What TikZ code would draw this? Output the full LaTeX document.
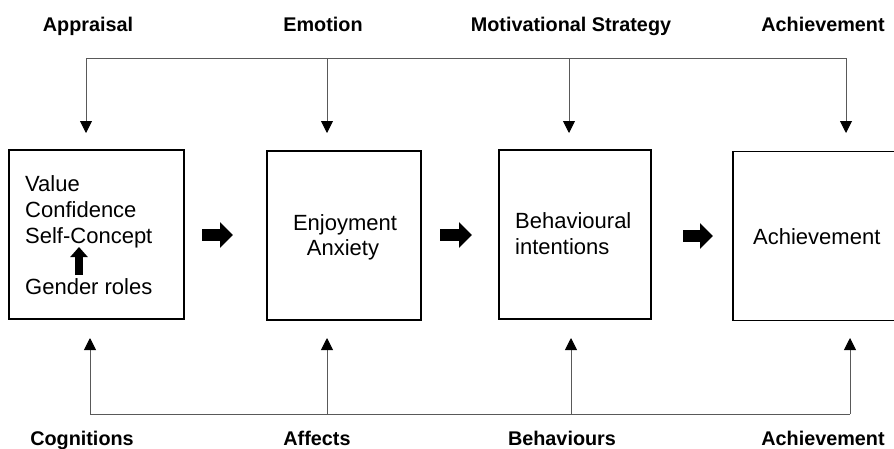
\documentclass[tikz,border=0pt]{standalone}
\usepackage{fontspec}
\setmainfont{Liberation Sans}
\usetikzlibrary{arrows.meta,calc}
\begin{document}
\begin{tikzpicture}[x=1pt,y=-1pt,
  box/.style={draw=black,line width=1.9pt,minimum width=#1,minimum height=169pt,inner sep=0pt},
  boxtext/.style={font=\fontsize{22}{26}\selectfont,inner sep=0pt,anchor=base west},
  lab/.style={font=\fontsize{19.8}{23}\selectfont\bfseries,inner sep=0pt,anchor=base},
  conn/.style={draw=black!65,line width=0.9pt},
  connarrow/.style={conn,-{Triangle[width=12pt,length=12pt,fill=black,color=black]}},
  fat/.style={line width=12pt,-{Triangle[width=25pt,length=13pt]}},
  smallfat/.style={line width=8pt,-{Triangle[width=17pt,length=10pt]}}
]
\useasboundingbox (0,0) rectangle (894,448);
\clip (0,0) rectangle (894,448);

% boxes
\node[box=175pt] (b1) at (96.5,234.5) {};
\node[box=154pt] (b2) at (344,235.5) {};
\node[box=152pt] (b3) at (575,234.5) {};
\node[box=170pt] (b4) at (818,236) {};

% box texts
\node[boxtext] (v1) at (25,191.5) {Value};
\node[boxtext] (v2) at (25,217.5) {Confidence};
\node[boxtext] (v3) at (25,243) {Self-Concept};
\node[boxtext] (v4) at (25,294) {Gender roles};
\node[boxtext,anchor=base] (e1) at (345,230.5) {Enjoyment};
\node[boxtext,anchor=base] (e2) at (343,255) {Anxiety};
\node[boxtext] (h1) at (515,228.5) {Behavioural};
\node[boxtext] (h2) at (515,254) {intentions};
\node[boxtext] (a1) at (753,244) {Achievement};

% small arrow inside box 1
\coordinate (sa0) at (79,275);
\coordinate (sa1) at (79,247);
\draw[smallfat] (sa0) -- (sa1);

% fat arrows between boxes
\coordinate (f1a) at (202,235);
\coordinate (f1b) at (233,235);
\coordinate (f2a) at (440,235);
\coordinate (f2b) at (472,235);
\coordinate (f3a) at (683,236);
\coordinate (f3b) at (713,236);
\draw[fat] (f1a) -- (f1b);
\draw[fat] (f2a) -- (f2b);
\draw[fat] (f3a) -- (f3b);

% top labels
\node[lab] (t1) at (88,31.5) {Appraisal};
\node[lab] (t2) at (323,31.5) {Emotion};
\node[lab] (t3) at (571,31.5) {Motivational Strategy};
\node[lab] (t4) at (823,31.5) {Achievement};

% bottom labels
\node[lab] (u1) at (82,445) {Cognitions};
\node[lab] (u2) at (317,445) {Affects};
\node[lab] (u3) at (562,445) {Behaviours};
\node[lab] (u4) at (823,445) {Achievement};

% top connector
\coordinate (tp1) at (86,58);
\coordinate (tp2) at (327,58);
\coordinate (tp3) at (569,58);
\coordinate (tp4) at (846,58);
\coordinate (te1) at (86,133);
\coordinate (te2) at (327,133);
\coordinate (te3) at (569,133);
\coordinate (te4) at (846,133);
\draw[conn] (tp1) -- (tp4);
\draw[connarrow] (tp1) -- (te1);
\draw[connarrow] (tp2) -- (te2);
\draw[connarrow] (tp3) -- (te3);
\draw[connarrow] (tp4) -- (te4);

% bottom connector
\coordinate (bp1) at (90,414);
\coordinate (bp2) at (327,414);
\coordinate (bp3) at (571,414);
\coordinate (bp4) at (850,414);
\coordinate (be1) at (90,338);
\coordinate (be2) at (327,338);
\coordinate (be3) at (571,338);
\coordinate (be4) at (850,338);
\draw[conn] (bp1) -- (bp4);
\draw[connarrow] (bp1) -- (be1);
\draw[connarrow] (bp2) -- (be2);
\draw[connarrow] (bp3) -- (be3);
\draw[connarrow] (bp4) -- (be4);
\end{tikzpicture}
\end{document}
